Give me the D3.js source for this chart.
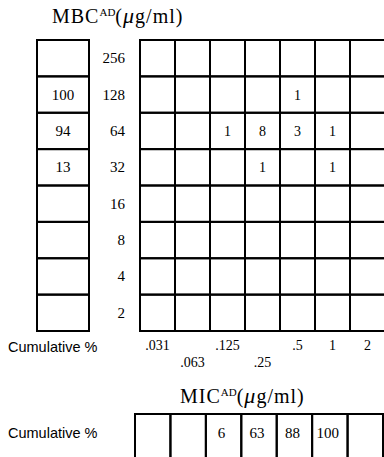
<!DOCTYPE html>
<html lang="en">
<head>
<meta charset="UTF-8">
<title>MBC vs MIC</title>
<script src="https://d3js.org/d3.v7.min.js"></script>
<style>
    body { margin: 0; background: #fff; }
    svg { display: block; }
    .serif { font-family: "Liberation Serif", "Times New Roman", serif; fill: #000; }
    .sans { font-family: "Liberation Sans", Arial, sans-serif; fill: #000; }
</style>
</head>
<body>
<svg width="384" height="457"></svg>
<script>
// MBC rows (top to bottom) and MIC columns (left to right)
const mbcRows = ["256", "128", "64", "32", "16", "8", "4", "2"];
const micCols = [".031", ".063", ".125", ".25", ".5", "1", "2"];

// number of isolates per MBC/MIC cell
const cellCounts = [
    { mbc: "128", mic: ".5", n: 1 },
    { mbc: "64", mic: ".125", n: 1 },
    { mbc: "64", mic: ".25", n: 8 },
    { mbc: "64", mic: ".5", n: 3 },
    { mbc: "64", mic: "1", n: 1 },
    { mbc: "32", mic: ".25", n: 1 },
    { mbc: "32", mic: "1", n: 1 }
];

// cumulative % columns
const mbcCumulative = ["", "100", "94", "13", "", "", "", ""];
const micCumulative = ["", "", "6", "63", "88", "100", ""];

const svg = d3.select("svg");
const lineW = 2;

// scales
const y = d3.scaleBand().domain(mbcRows).range([40, 331]);
const x = d3.scaleBand().domain(micCols).range([140, 385]);
const xMic = d3.scaleBand().domain(micCols).range([135, 383]);

function title(name, tx, ty) {
    const t = svg.append("text").attr("class", "serif")
        .attr("x", tx).attr("y", ty).attr("font-size", 20)
        .attr("letter-spacing", 1);
    t.append("tspan").text(name);
    t.append("tspan").attr("font-size", 11).attr("dy", -7).attr("letter-spacing", 0).text("AD");
    t.append("tspan").attr("dy", 7).text("(");
    t.append("tspan").attr("font-style", "italic").attr("font-size", 22).text("\u03bc");
    t.append("tspan").text("g/ml)");
}

title("MBC", 52, 23);

// left cumulative box
const lb = svg.append("g");
lb.selectAll("rect").data(mbcRows).enter().append("rect")
    .attr("x", 37).attr("y", d => y(d))
    .attr("width", 52).attr("height", y.bandwidth())
    .attr("fill", "none").attr("stroke", "#000").attr("stroke-width", lineW);
lb.selectAll("text").data(mbcRows).enter().append("text")
    .attr("class", "serif").attr("font-size", 15)
    .attr("text-anchor", "middle")
    .attr("x", 63).attr("y", d => y(d) + y.bandwidth() / 2 + 5)
    .text((d, i) => mbcCumulative[i]);

// row labels
svg.append("g").selectAll("text").data(mbcRows).enter().append("text")
    .attr("class", "serif").attr("font-size", 15)
    .attr("text-anchor", "end")
    .attr("x", 125).attr("y", d => y(d) + y.bandwidth() / 2 + 5)
    .text(d => d);

// main grid
const grid = svg.append("g");
const cells = [];
mbcRows.forEach(r => micCols.forEach(c => cells.push({ r, c })));
grid.selectAll("rect").data(cells).enter().append("rect")
    .attr("x", d => x(d.c)).attr("y", d => y(d.r))
    .attr("width", x.bandwidth()).attr("height", y.bandwidth())
    .attr("fill", "none").attr("stroke", "#000").attr("stroke-width", lineW);
grid.selectAll("text").data(cellCounts).enter().append("text")
    .attr("class", "serif").attr("font-size", 14)
    .attr("text-anchor", "middle")
    .attr("x", d => x(d.mic) + x.bandwidth() / 2)
    .attr("y", d => y(d.mbc) + y.bandwidth() / 2 + 5)
    .text(d => d.n);

// x tick labels, staggered
svg.append("g").selectAll("text").data(micCols).enter().append("text")
    .attr("class", "serif").attr("font-size", 14)
    .attr("text-anchor", "middle")
    .attr("x", d => x(d) + x.bandwidth() / 2)
    .attr("y", (d, i) => (i === 1 || i === 3) ? 367 : 350)
    .text(d => d);

svg.append("text").attr("class", "sans").attr("font-size", 14.5)
    .attr("x", 8).attr("y", 352).text("Cumulative %");

title("MIC", 180, 403);

// MIC cumulative row
const mb = svg.append("g");
mb.selectAll("rect").data(micCols).enter().append("rect")
    .attr("x", d => xMic(d)).attr("y", 414)
    .attr("width", xMic.bandwidth()).attr("height", 50)
    .attr("fill", "none").attr("stroke", "#000").attr("stroke-width", lineW);
mb.selectAll("text").data(micCols).enter().append("text")
    .attr("class", "serif").attr("font-size", 15)
    .attr("text-anchor", "middle")
    .attr("x", d => xMic(d) + xMic.bandwidth() / 2 - 2)
    .attr("y", 438)
    .text((d, i) => micCumulative[i]);

svg.append("text").attr("class", "sans").attr("font-size", 14.5)
    .attr("x", 8).attr("y", 438).text("Cumulative %");
</script>
</body>
</html>
